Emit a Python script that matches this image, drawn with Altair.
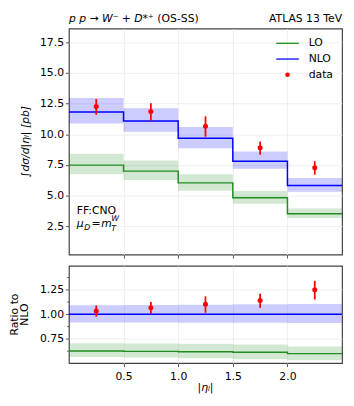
import altair as alt
import pandas as pd

# ---------------- data ----------------
edges = [0.0, 0.5, 1.0, 1.5, 2.0, 2.5]
centers = [0.25, 0.75, 1.25, 1.75, 2.25]

lo = [7.48, 6.99, 6.03, 4.81, 3.52]
lo_up = [8.41, 7.85, 6.73, 5.37, 3.95]
lo_dn = [6.73, 6.27, 5.39, 4.32, 3.17]

nlo = [11.81, 11.08, 9.67, 7.80, 5.82]
nlo_up = [12.95, 12.13, 10.60, 8.60, 6.43]
nlo_dn = [10.87, 10.20, 8.86, 7.18, 5.31]

data = [12.26, 11.86, 10.66, 8.90, 7.26]
data_up = [12.87, 12.53, 11.46, 9.40, 7.80]
data_dn = [11.59, 11.08, 9.80, 8.33, 6.70]

r_lo = [0.627, 0.623, 0.620, 0.613, 0.600]
r_lo_up = [0.706, 0.704, 0.700, 0.693, 0.673]
r_lo_dn = [0.566, 0.560, 0.553, 0.543, 0.533]
r_nlo = [1.0, 1.0, 1.0, 1.0, 1.0]
r_nlo_up = [1.093, 1.094, 1.097, 1.102, 1.105]
r_nlo_dn = [0.917, 0.918, 0.915, 0.914, 0.912]
r_data = [1.035, 1.068, 1.103, 1.140, 1.250]
r_data_up = [1.090, 1.126, 1.183, 1.210, 1.340]
r_data_dn = [0.977, 1.006, 1.016, 1.066, 1.150]

top_ticks = [2.5, 5.0, 7.5, 10.0, 12.5, 15.0, 17.5]
ratio_ticks = [0.75, 1.0, 1.25]
ratio_minor = [0.625, 0.875, 1.125, 1.375]
x_ticks = [0.5, 1.0, 1.5, 2.0]

GREEN = "#228b22"
BLUE = "#0000ff"
RED = "#ff0000"
FONT = "DejaVu Sans"

W = 278
H_TOP = 230
H_BOT = 99

xs = alt.Scale(domain=[0, 2.5], nice=False, zero=False)
ys_top = alt.Scale(domain=[0.18, 18.62], nice=False, zero=False)
ys_bot = alt.Scale(domain=[0.503, 1.493], nice=False, zero=False)


def bins_df(v, up, dn):
    return pd.DataFrame({"x0": edges[:-1], "x1": edges[1:], "v": v, "up": up, "dn": dn})


def step_df(v):
    return pd.DataFrame({"x": edges, "v": list(v) + [v[-1]]})


def pts_df(v, up, dn):
    return pd.DataFrame({"x": centers, "v": v, "up": up, "dn": dn})


def panel(lo_v, lo_u, lo_d, nlo_v, nlo_u, nlo_d, d_v, d_u, d_d, ys, xaxis, yaxis):
    band_lo = alt.Chart(bins_df(lo_v, lo_u, lo_d)).mark_rect(color=GREEN, opacity=0.2).encode(
        x=alt.X("x0:Q", scale=xs, axis=xaxis), x2="x1:Q",
        y=alt.Y("dn:Q", scale=ys, axis=yaxis), y2="up:Q")
    band_nlo = alt.Chart(bins_df(nlo_v, nlo_u, nlo_d)).mark_rect(color=BLUE, opacity=0.2).encode(
        x=alt.X("x0:Q", scale=xs, axis=xaxis), x2="x1:Q",
        y=alt.Y("dn:Q", scale=ys, axis=yaxis), y2="up:Q")
    line_lo = alt.Chart(step_df(lo_v)).mark_line(color=GREEN, strokeWidth=1.5, interpolate="step-after").encode(
        x=alt.X("x:Q", scale=xs, axis=xaxis), y=alt.Y("v:Q", scale=ys, axis=yaxis))
    line_nlo = alt.Chart(step_df(nlo_v)).mark_line(color=BLUE, strokeWidth=1.5, interpolate="step-after").encode(
        x=alt.X("x:Q", scale=xs, axis=xaxis), y=alt.Y("v:Q", scale=ys, axis=yaxis))
    err = alt.Chart(pts_df(d_v, d_u, d_d)).mark_rule(color=RED, strokeWidth=1.8).encode(
        x=alt.X("x:Q", scale=xs, axis=xaxis), y=alt.Y("dn:Q", scale=ys, axis=yaxis), y2="up:Q")
    pts = alt.Chart(pts_df(d_v, d_u, d_d)).mark_circle(color=RED, size=26, opacity=1).encode(
        x=alt.X("x:Q", scale=xs, axis=xaxis), y=alt.Y("v:Q", scale=ys, axis=yaxis))
    return [band_lo, band_nlo, line_lo, line_nlo, err, pts]


def txt(s, x, y, size=11, style="normal", align="left", baseline="alphabetic", angle=0):
    return alt.Chart(pd.DataFrame({"t": [s]})).mark_text(
        font=FONT, fontSize=size, fontStyle=style, align=align, baseline=baseline, color="black",
        angle=angle
    ).encode(x=alt.value(x), y=alt.value(y), text="t:N")


# ---------------- top panel ----------------
top_x_axis = alt.Axis(values=x_ticks, labels=False, title=None, grid=True)
top_y_axis = alt.Axis(values=top_ticks, format=".1f", title=None, labelOverlap=False)

top_layers = panel(lo, lo_up, lo_dn, nlo, nlo_up, nlo_dn, data, data_up, data_dn,
                   ys_top, top_x_axis, top_y_axis)

leg = [
    alt.Chart(pd.DataFrame({"a": [0]})).mark_rule(color=GREEN, strokeWidth=1.3).encode(
        x=alt.value(211), x2=alt.value(234), y=alt.value(15)),
    alt.Chart(pd.DataFrame({"a": [0]})).mark_rule(color=BLUE, strokeWidth=1.3).encode(
        x=alt.value(211), x2=alt.value(234), y=alt.value(31)),
    alt.Chart(pd.DataFrame({"a": [0]})).mark_circle(color=RED, size=22, opacity=1).encode(
        x=alt.value(222.5), y=alt.value(47)),
    txt("LO", 244, 15, baseline="middle"),
    txt("NLO", 244, 31, baseline="middle"),
    txt("data", 244, 47, baseline="middle"),
]

ann = [
    txt("p p → W⁻ + D*⁺", 0, -10, style="italic", baseline="middle"),
    txt("(OS-SS)", 90, -10, baseline="middle"),
    txt("ATLAS 13 TeV", W, -10, align="right", baseline="middle"),
    txt("∫dσ/d|ηₗ|  [pb]", -44, H_TOP / 2, style="italic", align="center", baseline="middle", angle=270),
    txt("FF:CNO", 8, 189),
    txt("μ", 8, 202, style="italic"),
    txt("D", 15.5, 205, size=8, style="italic"),
    txt("=", 23, 202),
    txt("m", 33, 202, style="italic"),
    txt("W", 43, 196, size=8, style="italic"),
    txt("T", 43, 206, size=8, style="italic"),
]

top = alt.layer(*top_layers, *leg, *ann).properties(width=W, height=H_TOP)

# ---------------- ratio panel ----------------
bot_x_axis = alt.Axis(values=x_ticks, format=".1f", title=None, grid=True,
                      labelOverlap=False, labelPadding=4)
bot_y_axis = alt.Axis(values=ratio_ticks, format=".2f", title=None, labelOverlap=False)

bot_layers = panel(r_lo, r_lo_up, r_lo_dn, r_nlo, r_nlo_up, r_nlo_dn, r_data, r_data_up, r_data_dn,
                   ys_bot, bot_x_axis, bot_y_axis)
minor = alt.Chart(pd.DataFrame({"v": ratio_minor})).mark_rule(color="#444", strokeWidth=0.8).encode(
    y=alt.Y("v:Q", scale=ys_bot, axis=bot_y_axis), x=alt.value(-2), x2=alt.value(0))

bot_titles = [
    txt("Ratio to", -54.5, H_BOT / 2, align="center", baseline="middle", angle=270),
    txt("NLO", -44.5, H_BOT / 2, align="center", baseline="middle", angle=270),
    txt("|ηₗ|", W / 2, H_BOT + 25.5, style="italic", align="center", baseline="middle"),
]

bot = alt.layer(*bot_layers, minor, *bot_titles).properties(width=W, height=H_BOT)

chart = alt.vconcat(top, bot, spacing=5.5).properties(
    padding={"left": 0, "top": 0.5, "right": 0, "bottom": 0}
).configure_view(
    stroke="#444", strokeWidth=1.2
).configure_axis(
    labelFont=FONT, labelFontSize=11, labelColor="black", labelOverlap=False,
    titleFont=FONT, titleFontSize=11, titleColor="black", titleFontWeight="normal",
    tickColor="#444", tickSize=3.5, tickWidth=0.9, domain=False,
    gridColor="#ebebeb", gridWidth=0.8, labelPadding=2,
)

chart.save("out.html", embed_options={"renderer": "svg", "actions": False})
